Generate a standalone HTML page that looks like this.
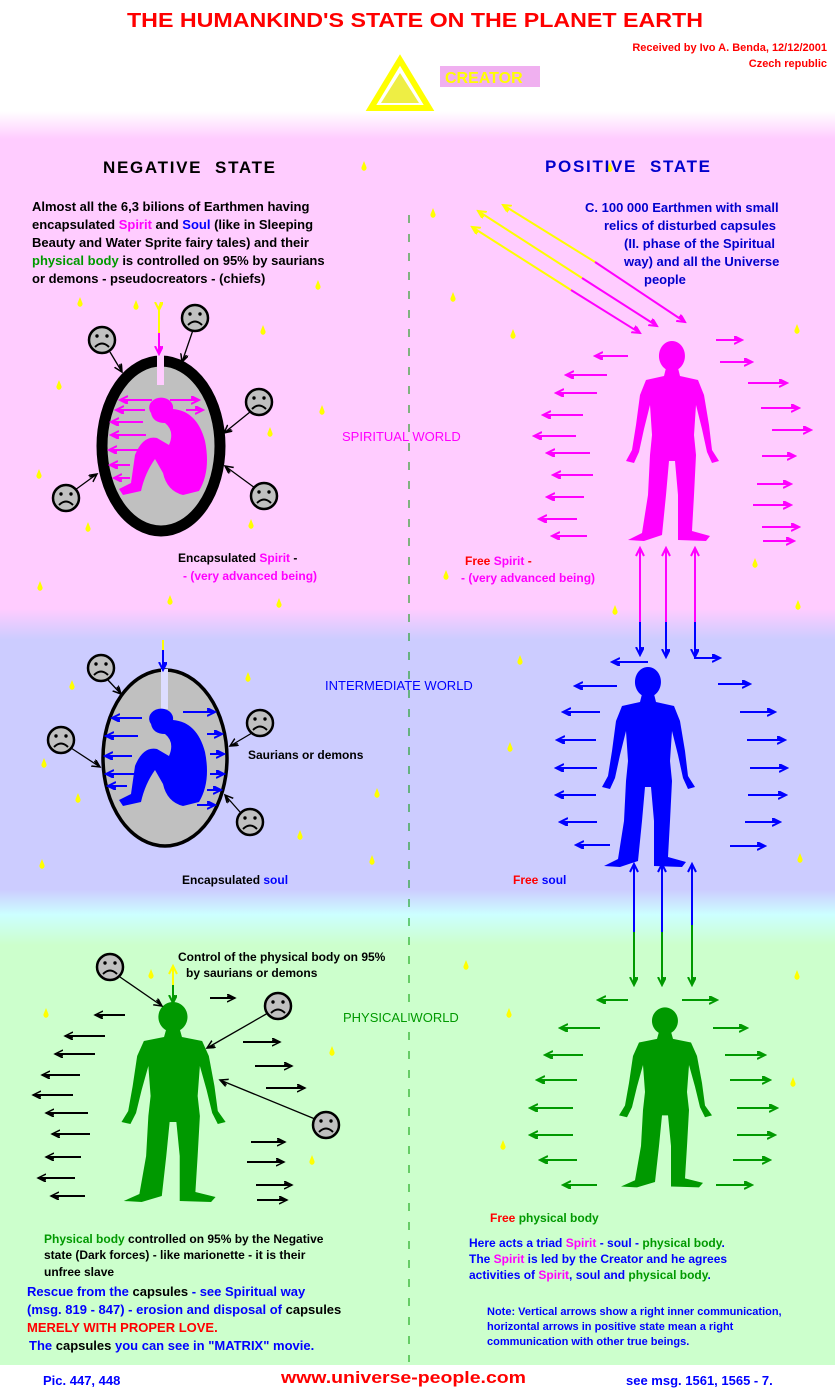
<!DOCTYPE html>
<html><head><meta charset="utf-8">
<style>
html,body{margin:0;padding:0;background:#fff}
svg{display:block}
text{font-family:"Liberation Sans",Arial,sans-serif;font-weight:bold}
</style></head><body>
<svg width="835" height="1390" viewBox="0 0 835 1390" xmlns="http://www.w3.org/2000/svg">
<defs>
<linearGradient id="bg" x1="0" y1="0" x2="0" y2="1390" gradientUnits="userSpaceOnUse">
<stop offset="0" stop-color="#fff"/>
<stop offset="0.08" stop-color="#fff"/>
<stop offset="0.10" stop-color="#ffccff"/>
<stop offset="0.438" stop-color="#ffccff"/>
<stop offset="0.46" stop-color="#ccccff"/>
<stop offset="0.640" stop-color="#ccccff"/>
<stop offset="0.658" stop-color="#ccffff"/>
<stop offset="0.68" stop-color="#ccffcc"/>
<stop offset="1" stop-color="#ccffcc"/>
</linearGradient>
<marker id="mk" markerWidth="10" markerHeight="10" refX="8" refY="4" orient="auto" markerUnits="userSpaceOnUse"><path d="M0,0 L8,4 L0,8 M0,2 L6,4" fill="none" stroke="#000" stroke-width="1.5"/></marker>
<marker id="mm" markerWidth="10" markerHeight="10" refX="8" refY="4" orient="auto" markerUnits="userSpaceOnUse"><path d="M0,0 L8,4 L0,8 M0,2 L6,4" fill="none" stroke="#ff00ff" stroke-width="2"/></marker>
<marker id="mb" markerWidth="10" markerHeight="10" refX="8" refY="4" orient="auto" markerUnits="userSpaceOnUse"><path d="M0,0 L8,4 L0,8 M0,2 L6,4" fill="none" stroke="#0000ff" stroke-width="2"/></marker>
<marker id="mg" markerWidth="10" markerHeight="10" refX="8" refY="4" orient="auto" markerUnits="userSpaceOnUse"><path d="M0,0 L8,4 L0,8 M0,2 L6,4" fill="none" stroke="#009900" stroke-width="2"/></marker>
<marker id="my" markerWidth="10" markerHeight="10" refX="8" refY="4" orient="auto" markerUnits="userSpaceOnUse"><path d="M0,0 L8,4 L0,8 M0,2 L6,4" fill="none" stroke="#ffff00" stroke-width="2"/></marker>
<path id="man" d="M-6 13 L6 13 L8 21 L26 25 L32 40 L37 70 L40 95 L47 106 L40 108 L35 97 L30 74 L24 50 L22 80 L24 100 L22 140 L20 176 L38 181 L34 186 L6 185 L6 140 L3 106 L-3 106 L-6 140 L-10 180 L-28 186 L-44 185 L-30 178 L-24 140 L-22 100 L-20 80 L-22 50 L-28 74 L-33 97 L-38 108 L-46 106 L-40 95 L-36 70 L-32 40 L-26 25 L-8 21 Z M0 -14 A13 15 0 1 1 -0.1 -14 Z"/>
<path id="crouch" d="M-12 0 A12 10 0 1 1 10 -4 Q34 -2 42 28 Q48 58 36 78 L20 82 Q4 78 0 60 L-8 46 Q-18 60 -22 78 L-40 82 L-44 76 L-32 70 L-28 42 Q-20 22 -6 25 L6 32 Q12 18 2 10 Q-10 10 -12 0 Z"/>
<g id="face"><circle r="13" fill="#c0c0c0" stroke="#000" stroke-width="2.5"/><circle cx="-5" cy="-4" r="1.7"/><circle cx="5" cy="-4" r="1.7"/><path d="M-7 7 Q0 0 7 7" fill="none" stroke="#000" stroke-width="2"/></g>
<path id="drop" d="M0 -5 L2 0 A2.5 3 0 1 1 -2 0 Z" fill="#ffff00"/>
</defs>
<rect width="835" height="1390" fill="url(#bg)"/>
<rect y="1365" width="835" height="25" fill="#fff"/>
<line x1="409" y1="215" x2="409" y2="1362" stroke="#009900" stroke-width="1" stroke-dasharray="8,11"/>

<!-- header -->
<text x="127" y="27" font-size="20" fill="#ff0000" textLength="576" lengthAdjust="spacingAndGlyphs">THE HUMANKIND'S STATE ON THE PLANET EARTH</text>
<text x="827" y="51" font-size="11" fill="#ff0000" text-anchor="end">Received by Ivo A. Benda, 12/12/2001</text>
<text x="827" y="67" font-size="11" fill="#ff0000" text-anchor="end">Czech republic</text>
<path d="M400 60 L429 108 L371 108 Z" fill="none" stroke="#ffff00" stroke-width="6"/>
<path d="M400 73 L419 103 L381 103 Z" fill="#eeee44"/>
<rect x="440" y="66" width="100" height="21" fill="#f0b0f0"/>
<text x="445" y="83" font-size="16" fill="#ffff00">CREATOR</text>

<!-- drops -->
<g>
<use href="#drop" x="364" y="166"/><use href="#drop" x="610" y="167"/><use href="#drop" x="433" y="213"/><use href="#drop" x="318" y="285"/><use href="#drop" x="453" y="297"/><use href="#drop" x="513" y="334"/><use href="#drop" x="80" y="302"/><use href="#drop" x="136" y="305"/><use href="#drop" x="263" y="330"/><use href="#drop" x="59" y="385"/><use href="#drop" x="270" y="432"/><use href="#drop" x="322" y="410"/><use href="#drop" x="39" y="474"/><use href="#drop" x="88" y="527"/><use href="#drop" x="251" y="524"/><use href="#drop" x="797" y="329"/><use href="#drop" x="40" y="586"/><use href="#drop" x="170" y="600"/><use href="#drop" x="279" y="603"/><use href="#drop" x="446" y="575"/><use href="#drop" x="615" y="610"/><use href="#drop" x="798" y="605"/><use href="#drop" x="755" y="563"/><use href="#drop" x="520" y="660"/><use href="#drop" x="72" y="685"/><use href="#drop" x="248" y="677"/><use href="#drop" x="44" y="763"/><use href="#drop" x="78" y="798"/><use href="#drop" x="510" y="747"/><use href="#drop" x="377" y="793"/><use href="#drop" x="300" y="835"/><use href="#drop" x="372" y="860"/><use href="#drop" x="800" y="858"/><use href="#drop" x="42" y="864"/><use href="#drop" x="110" y="958"/><use href="#drop" x="151" y="974"/><use href="#drop" x="466" y="965"/><use href="#drop" x="46" y="1013"/><use href="#drop" x="509" y="1013"/><use href="#drop" x="332" y="1051"/><use href="#drop" x="312" y="1160"/><use href="#drop" x="503" y="1145"/><use href="#drop" x="793" y="1082"/><use href="#drop" x="797" y="975"/><use href="#drop" x="275" y="1002"/>
</g>

<!-- headings & texts top -->
<text x="103" y="173" font-size="17" fill="#000" textLength="172" lengthAdjust="spacing" xml:space="preserve">NEGATIVE  STATE</text>
<text x="545" y="172" font-size="17" fill="#0000cc" textLength="165" lengthAdjust="spacing" xml:space="preserve">POSITIVE  STATE</text>
<g font-size="13" fill="#000">
<text x="32" y="211">Almost all the 6,3 bilions of Earthmen having</text>
<text x="32" y="229">encapsulated <tspan fill="#ff00ff">Spirit</tspan> and <tspan fill="#0000ff">Soul</tspan> (like in Sleeping</text>
<text x="32" y="247">Beauty and Water Sprite fairy tales) and their</text>
<text x="32" y="265"><tspan fill="#009900">physical body</tspan> is controlled on 95% by saurians</text>
<text x="32" y="283">or demons - pseudocreators   - (chiefs)</text>
</g>
<g font-size="13" fill="#0000cc">
<text x="585" y="212">C. 100 000 Earthmen with small</text>
<text x="604" y="230">relics of disturbed capsules</text>
<text x="624" y="248">(II. phase of the  Spiritual</text>
<text x="624" y="266">way) and all the  Universe</text>
<text x="644" y="284">people</text>
</g>

<!-- yellow/magenta diagonals -->
<g stroke-width="2" fill="none">
<line x1="595" y1="262" x2="503" y2="205" stroke="#ffff00" marker-end="url(#my)"/>
<line x1="595" y1="262" x2="685" y2="322" stroke="#ff00ff" marker-end="url(#mm)"/>
<line x1="582" y1="278" x2="478" y2="211" stroke="#ffff00" marker-end="url(#my)"/>
<line x1="582" y1="278" x2="657" y2="326" stroke="#ff00ff" marker-end="url(#mm)"/>
<line x1="571" y1="290" x2="472" y2="227" stroke="#ffff00" marker-end="url(#my)"/>
<line x1="571" y1="290" x2="640" y2="333" stroke="#ff00ff" marker-end="url(#mm)"/>
</g>

<!-- pink capsule -->
<ellipse cx="161" cy="446" rx="59" ry="85" fill="#c0c0c0" stroke="#000" stroke-width="11"/>
<rect x="157" y="355" width="7" height="30" fill="#ffccff"/>
<line x1="159" y1="310" x2="159" y2="333" stroke="#ffff00" stroke-width="2" marker-start="url(#my)"/>
<line x1="159" y1="333" x2="159" y2="354" stroke="#ff00ff" stroke-width="2" marker-end="url(#mm)"/>
<use href="#crouch" x="163" y="413" fill="#ff00ff"/>
<g stroke="#ff00ff" stroke-width="2" marker-end="url(#mm)">
<line x1="152" y1="400" x2="120" y2="400"/><line x1="145" y1="410" x2="116" y2="410"/><line x1="143" y1="422" x2="111" y2="422"/><line x1="146" y1="435" x2="111" y2="435"/><line x1="140" y1="450" x2="109" y2="450"/><line x1="130" y1="465" x2="110" y2="465"/><line x1="130" y1="478" x2="114" y2="478"/>
<line x1="170" y1="400" x2="199" y2="400"/><line x1="186" y1="410" x2="203" y2="410"/>
</g>
<g stroke="#000" stroke-width="1.3" marker-end="url(#mk)">
<line x1="110" y1="352" x2="122" y2="372"/><line x1="193" y1="330" x2="182" y2="362"/><line x1="250" y1="412" x2="224" y2="433"/><line x1="75" y1="490" x2="97" y2="474"/><line x1="255" y1="488" x2="225" y2="466"/>
</g>
<use href="#face" x="102" y="340"/><use href="#face" x="195" y="318"/><use href="#face" x="259" y="402"/><use href="#face" x="66" y="498"/><use href="#face" x="264" y="496"/>
<text x="178" y="562" font-size="12" fill="#000">Encapsulated <tspan fill="#ff00ff">Spirit</tspan> -</text>
<text x="183" y="580" font-size="12" fill="#ff00ff">- (very advanced being)</text>
<text x="342" y="441" font-size="13" fill="#ff00ff" style="font-weight:normal">SPIRITUAL WORLD</text>

<!-- pink standing man -->
<use href="#man" x="672" y="355" fill="#ff00ff"/>
<g stroke="#ff00ff" stroke-width="2" marker-end="url(#mm)">
<line x1="628" y1="356" x2="595" y2="356"/><line x1="607" y1="375" x2="566" y2="375"/><line x1="597" y1="393" x2="556" y2="393"/><line x1="583" y1="415" x2="543" y2="415"/><line x1="576" y1="436" x2="534" y2="436"/><line x1="590" y1="453" x2="547" y2="453"/><line x1="593" y1="475" x2="553" y2="475"/><line x1="584" y1="497" x2="547" y2="497"/><line x1="577" y1="519" x2="539" y2="519"/><line x1="587" y1="536" x2="552" y2="536"/>
<line x1="716" y1="340" x2="742" y2="340"/><line x1="720" y1="362" x2="752" y2="362"/><line x1="748" y1="383" x2="787" y2="383"/><line x1="761" y1="408" x2="799" y2="408"/><line x1="772" y1="430" x2="811" y2="430"/><line x1="762" y1="456" x2="795" y2="456"/><line x1="757" y1="484" x2="791" y2="484"/><line x1="753" y1="505" x2="791" y2="505"/><line x1="762" y1="527" x2="799" y2="527"/><line x1="763" y1="541" x2="794" y2="541"/>
</g>
<text x="465" y="565" font-size="12" fill="#ff0000">Free <tspan fill="#ff00ff">Spirit</tspan> -</text>
<text x="461" y="582" font-size="12" fill="#ff00ff">- (very advanced being)</text>

<!-- vertical arrows pink-blue -->
<g stroke-width="2">
<line x1="640" y1="550" x2="640" y2="622" stroke="#ff00ff"/>
<line x1="666" y1="550" x2="666" y2="622" stroke="#ff00ff"/>
<line x1="695" y1="550" x2="695" y2="622" stroke="#ff00ff"/>
<line x1="640" y1="622" x2="640" y2="655" stroke="#0000ff" marker-end="url(#mb)"/>
<line x1="666" y1="622" x2="666" y2="657" stroke="#0000ff" marker-end="url(#mb)"/>
<line x1="695" y1="622" x2="695" y2="657" stroke="#0000ff" marker-end="url(#mb)"/>
</g>
<g stroke="#ff00ff" stroke-width="2" fill="none"><path d="M636 556 L640 548 L644 556"/><path d="M662 556 L666 548 L670 556"/><path d="M691 556 L695 548 L699 556"/></g>

<!-- blue capsule -->
<ellipse cx="165" cy="758" rx="62" ry="88" fill="#c0c0c0" stroke="#000" stroke-width="3.5"/>
<rect x="161" y="669" width="7" height="40" fill="#ddddff"/>
<line x1="163" y1="640" x2="163" y2="650" stroke="#ffff00" stroke-width="2"/>
<line x1="163" y1="650" x2="163" y2="670" stroke="#0000ff" stroke-width="2" marker-end="url(#mb)"/>
<use href="#crouch" x="163" y="724" fill="#0000ff"/>
<g stroke="#0000ff" stroke-width="2" marker-end="url(#mb)">
<line x1="142" y1="718" x2="112" y2="718"/><line x1="138" y1="736" x2="106" y2="736"/><line x1="132" y1="756" x2="105" y2="756"/><line x1="134" y1="774" x2="106" y2="774"/><line x1="127" y1="786" x2="108" y2="786"/>
<line x1="183" y1="712" x2="215" y2="712"/><line x1="207" y1="734" x2="222" y2="734"/><line x1="210" y1="754" x2="224" y2="754"/><line x1="210" y1="774" x2="224" y2="774"/><line x1="207" y1="790" x2="221" y2="790"/><line x1="197" y1="805" x2="215" y2="805"/>
</g>
<g stroke="#000" stroke-width="1.3" marker-end="url(#mk)">
<line x1="107" y1="679" x2="121" y2="694"/><line x1="252" y1="733" x2="230" y2="746"/><line x1="71" y1="748" x2="100" y2="767"/><line x1="240" y1="812" x2="225" y2="795"/>
</g>
<use href="#face" x="101" y="668"/><use href="#face" x="260" y="723"/><use href="#face" x="61" y="740"/><use href="#face" x="250" y="822"/>
<text x="248" y="759" font-size="12" fill="#000">Saurians or demons</text>
<text x="325" y="690" font-size="13" fill="#0000ff" style="font-weight:normal">INTERMEDIATE WORLD</text>
<text x="182" y="884" font-size="12" fill="#000">Encapsulated <tspan fill="#0000ff">soul</tspan></text>
<text x="513" y="884" font-size="12" fill="#ff0000">Free <tspan fill="#0000ff">soul</tspan></text>

<!-- blue standing man -->
<use href="#man" x="648" y="681" fill="#0000ff"/>
<g stroke="#0000ff" stroke-width="2" marker-end="url(#mb)">
<line x1="648" y1="662" x2="612" y2="662"/><line x1="617" y1="686" x2="575" y2="686"/><line x1="600" y1="712" x2="563" y2="712"/><line x1="596" y1="740" x2="557" y2="740"/><line x1="597" y1="768" x2="556" y2="768"/><line x1="596" y1="795" x2="556" y2="795"/><line x1="597" y1="822" x2="560" y2="822"/><line x1="610" y1="845" x2="576" y2="845"/>
<line x1="694" y1="658" x2="720" y2="658"/><line x1="718" y1="684" x2="750" y2="684"/><line x1="740" y1="712" x2="775" y2="712"/><line x1="747" y1="740" x2="785" y2="740"/><line x1="750" y1="768" x2="787" y2="768"/><line x1="748" y1="795" x2="786" y2="795"/><line x1="745" y1="822" x2="780" y2="822"/><line x1="730" y1="846" x2="765" y2="846"/>
</g>

<!-- vertical arrows blue-green -->
<g stroke-width="2">
<line x1="634" y1="865" x2="634" y2="932" stroke="#0000ff"/><line x1="662" y1="865" x2="662" y2="932" stroke="#0000ff"/><line x1="692" y1="865" x2="692" y2="925" stroke="#0000ff"/>
<line x1="634" y1="932" x2="634" y2="985" stroke="#009900" marker-end="url(#mg)"/><line x1="662" y1="932" x2="662" y2="985" stroke="#009900" marker-end="url(#mg)"/><line x1="692" y1="925" x2="692" y2="985" stroke="#009900" marker-end="url(#mg)"/>
</g>
<g stroke="#0000ff" stroke-width="2" fill="none"><path d="M630 872 L634 864 L638 872"/><path d="M658 872 L662 864 L666 872"/><path d="M688 872 L692 864 L696 872"/></g>

<!-- green left man -->
<line x1="173" y1="968" x2="173" y2="985" stroke="#ffff00" stroke-width="2"/>
<path d="M169 974 L173 966 L177 974" stroke="#ffff00" stroke-width="2" fill="none"/>
<line x1="173" y1="985" x2="173" y2="1003" stroke="#009900" stroke-width="2" marker-end="url(#mg)"/>
<use href="#man" transform="translate(173,1016) scale(1.12,1.0)" fill="#009900"/>
<g stroke="#000" stroke-width="2" marker-end="url(#mk)">
<line x1="125" y1="1015" x2="95" y2="1015"/><line x1="105" y1="1036" x2="65" y2="1036"/><line x1="95" y1="1054" x2="55" y2="1054"/><line x1="80" y1="1075" x2="42" y2="1075"/><line x1="73" y1="1095" x2="33" y2="1095"/><line x1="88" y1="1113" x2="46" y2="1113"/><line x1="90" y1="1134" x2="52" y2="1134"/><line x1="81" y1="1157" x2="46" y2="1157"/><line x1="75" y1="1178" x2="38" y2="1178"/><line x1="85" y1="1196" x2="51" y2="1196"/>
<line x1="210" y1="998" x2="235" y2="998"/><line x1="243" y1="1042" x2="280" y2="1042"/><line x1="255" y1="1066" x2="292" y2="1066"/><line x1="266" y1="1088" x2="305" y2="1088"/><line x1="251" y1="1142" x2="285" y2="1142"/><line x1="247" y1="1162" x2="284" y2="1162"/><line x1="256" y1="1185" x2="292" y2="1185"/><line x1="257" y1="1200" x2="287" y2="1200"/>
</g>
<g stroke="#000" stroke-width="1.3" marker-end="url(#mk)">
<line x1="120" y1="977" x2="162" y2="1006"/><line x1="268" y1="1013" x2="207" y2="1048"/><line x1="315" y1="1119" x2="220" y2="1080"/>
</g>
<use href="#face" x="110" y="967"/><use href="#face" x="278" y="1006"/><use href="#face" x="326" y="1125"/>
<text x="178" y="961" font-size="12" fill="#000">Control of the physical body on 95%</text>
<text x="186" y="977" font-size="12" fill="#000">by saurians or demons</text>
<text x="343" y="1022" font-size="13" fill="#009900" style="font-weight:normal">PHYSICAL WORLD</text>

<!-- green right man -->
<use href="#man" fill="#009900" transform="translate(665,1020) scale(1,0.9)"/>
<g stroke="#009900" stroke-width="2" marker-end="url(#mg)">
<line x1="628" y1="1000" x2="598" y2="1000"/><line x1="600" y1="1028" x2="560" y2="1028"/><line x1="583" y1="1055" x2="545" y2="1055"/><line x1="577" y1="1080" x2="537" y2="1080"/><line x1="573" y1="1108" x2="530" y2="1108"/><line x1="573" y1="1135" x2="530" y2="1135"/><line x1="577" y1="1160" x2="540" y2="1160"/><line x1="597" y1="1185" x2="563" y2="1185"/>
<line x1="682" y1="1000" x2="717" y2="1000"/><line x1="713" y1="1028" x2="747" y2="1028"/><line x1="725" y1="1055" x2="765" y2="1055"/><line x1="730" y1="1080" x2="770" y2="1080"/><line x1="737" y1="1108" x2="777" y2="1108"/><line x1="737" y1="1135" x2="775" y2="1135"/><line x1="733" y1="1160" x2="770" y2="1160"/><line x1="716" y1="1185" x2="752" y2="1185"/>
</g>
<text x="490" y="1222" font-size="12" fill="#ff0000">Free <tspan fill="#009900">physical body</tspan></text>

<!-- bottom texts -->
<g font-size="12" fill="#000">
<text x="44" y="1243"><tspan fill="#009900">Physical body</tspan> controlled on 95% by the Negative</text>
<text x="44" y="1259">state (Dark forces) - like marionette - it is their</text>
<text x="44" y="1276">unfree slave</text>
</g>
<g font-size="13" fill="#0000ff">
<text x="27" y="1296">Rescue from the <tspan fill="#000">capsules</tspan> - see Spiritual way</text>
<text x="27" y="1314">(msg. 819 - 847) - erosion and disposal of <tspan fill="#000">capsules</tspan></text>
<text x="27" y="1332" fill="#ff0000">MERELY WITH PROPER LOVE.</text>
<text x="29" y="1350">The <tspan fill="#000">capsules</tspan> you can see in "MATRIX" movie.</text>
</g>
<g font-size="12" fill="#0000ff">
<text x="469" y="1247">Here acts a triad <tspan fill="#ff00ff">Spirit</tspan> - soul - <tspan fill="#009900">physical body</tspan>.</text>
<text x="469" y="1263">The <tspan fill="#ff00ff">Spirit</tspan> is led by the Creator and he agrees</text>
<text x="469" y="1279">activities of <tspan fill="#ff00ff">Spirit</tspan>, soul and <tspan fill="#009900">physical body</tspan>.</text>
</g>
<g font-size="11" fill="#0000ff">
<text x="487" y="1315">Note: Vertical arrows show a right inner communication,</text>
<text x="487" y="1330">horizontal arrows in positive state mean a right</text>
<text x="487" y="1345">communication with other true beings.</text>
</g>
<text x="43" y="1385" font-size="13" fill="#0000ff">Pic.  447, 448</text>
<text x="281" y="1383" font-size="17" fill="#ff0000" textLength="245" lengthAdjust="spacingAndGlyphs">www.universe-people.com</text>
<text x="626" y="1385" font-size="13" fill="#0000ff">see msg. 1561, 1565 - 7.</text>
</svg>
</body></html>
